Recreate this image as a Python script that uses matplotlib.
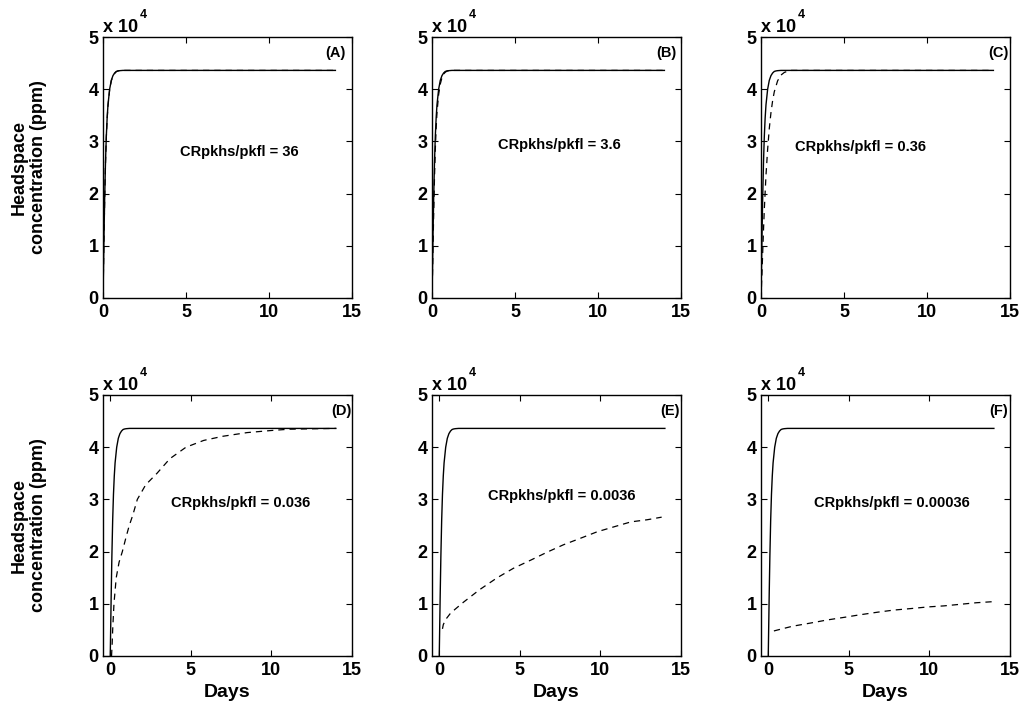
import numpy as np
import matplotlib
matplotlib.use("Agg")
import matplotlib.pyplot as plt
from matplotlib.ticker import FuncFormatter

plt.rcParams['font.family'] = ['Liberation Sans', 'DejaVu Sans']
plt.rcParams['font.weight'] = 'bold'

# ==================================================
# Data (time in days, concentration in ppm)
# ==================================================
panel_tags = ["(A)", "(B)", "(C)", "(D)", "(E)", "(F)"]
ratio_labels = ["36", "3.6", "0.36", "0.036", "0.0036", "0.00036"]

# solid curve, same in every panel
t_solid = [0.0, 0.03, 0.06, 0.1, 0.15, 0.2, 0.25, 0.3, 0.4, 0.5, 0.6, 0.7, 0.8, 0.9, 1.0, 1.2, 14.0]
c_solid = [0, 6000, 12000, 19000, 26000, 31000, 34500, 37000, 40000, 41700, 42600, 43100, 43400, 43500, 43550, 43600, 43600]

# dashed curves, one per panel
t_dash_a = [0.0, 0.03, 0.06, 0.1, 0.15, 0.2, 0.25, 0.3, 0.4, 0.5, 0.6, 0.7, 0.8, 0.9, 1.0, 1.2, 14.0]
c_dash_a = [0, 5800, 11700, 18700, 25700, 30800, 34300, 36800, 39900, 41600, 42500, 43000, 43350, 43500, 43550, 43600, 43600]

t_dash_b = [0.0, 0.03, 0.06, 0.1, 0.15, 0.2, 0.25, 0.3, 0.4, 0.5, 0.6, 0.7, 0.8, 0.9, 1.0, 1.2, 14.0]
c_dash_b = [0, 4500, 9500, 16000, 23000, 28500, 32500, 35500, 39000, 41000, 42200, 42900, 43250, 43450, 43550, 43600, 43600]

t_dash_c = [0.0, 0.05, 0.1, 0.15, 0.2, 0.3, 0.4, 0.5, 0.6, 0.7, 0.8, 1.0, 1.2, 1.4, 1.6, 1.8, 14.0]
c_dash_c = [0, 4000, 8500, 13000, 17000, 23500, 28500, 32500, 35500, 37800, 39500, 41600, 42700, 43200, 43450, 43600, 43600]

t_dash_d = [0.08, 0.12, 0.15, 0.23, 0.37, 0.55, 0.75, 1.0, 1.18, 1.4, 1.68, 2.2, 2.9, 3.7, 4.7, 5.8, 7.0, 8.5, 10.0, 11.1, 14.0]
c_dash_d = [0, 2500, 5000, 10000, 15000, 18000, 20000, 23000, 25000, 27000, 30000, 32800, 35000, 37800, 40000, 41300, 42100, 42800, 43200, 43450, 43600]

t_dash_e = [0.2, 0.25, 0.4, 0.7, 1.0, 1.5, 2.5, 3.6, 4.6, 5.7, 6.7, 7.7, 8.8, 9.8, 10.9, 11.9, 12.9, 13.8]
c_dash_e = [5200, 6000, 7000, 8200, 9000, 10300, 12700, 15000, 16800, 18400, 19900, 21300, 22600, 23800, 24800, 25700, 26100, 26600]

t_dash_f = [0.35, 0.6, 1.5, 2.6, 3.65, 4.7, 5.7, 6.8, 7.8, 8.9, 9.9, 10.9, 11.9, 12.9, 13.9]
c_dash_f = [4800, 5000, 5700, 6300, 6900, 7400, 7900, 8400, 8800, 9100, 9400, 9600, 9900, 10200, 10400]

dash_t = [t_dash_a, t_dash_b, t_dash_c, t_dash_d, t_dash_e, t_dash_f]
dash_c = [c_dash_a, c_dash_b, c_dash_c, c_dash_d, c_dash_e, c_dash_f]

# annotation anchor (data coords) per panel
ann_x = [8.2, 7.7, 6.0, 8.1, 7.6, 7.7]
ann_y = [28000, 29300, 29000, 29300, 30700, 29300]
tag_x = [14.6, 14.7, 14.9, 15.0, 14.9, 14.85]

# ==================================================
# Layout
# ==================================================
fig = plt.figure(figsize=(10.22, 7.09), dpi=100)
lefts = [103 / 1022, 432 / 1022, 761 / 1022]
bottoms = [1 - 298 / 709, 1 - 656 / 709]
w, h = 249 / 1022, 261 / 709

for i in range(6):
    row, col = divmod(i, 3)
    ax = fig.add_axes([lefts[col], bottoms[row], w, h])

    ax.plot(t_solid, c_solid, color="black", lw=1.0)
    ax.plot(dash_t[i], dash_c[i], color="black", lw=0.9, linestyle=(0, (5, 4)))

    ax.set_xlim(0 if row == 0 else -0.45, 15)
    ax.set_ylim(0, 50000)
    ax.set_xticks([0, 5, 10, 15])
    ax.set_yticks([0, 10000, 20000, 30000, 40000, 50000])
    ax.yaxis.set_major_formatter(FuncFormatter(lambda v, p: f"{v / 1e4:g}"))
    ax.tick_params(direction="in", top=True, right=True, length=4, width=0.8,
                   labelsize=13)
    ax.tick_params(axis="x", pad=4)
    ax.tick_params(axis="y", pad=3)
    for lab in ax.get_xticklabels() + ax.get_yticklabels():
        lab.set_fontweight("bold")
    for sp in ax.spines.values():
        sp.set_linewidth(1.0)

    # MATLAB-style exponent label above the axes
    ax.text(0.0, 1.02, "x 10", transform=ax.transAxes,
            fontsize=13, fontweight="bold", ha="left", va="baseline")
    ax.text(0.148, 1.073, "4", transform=ax.transAxes,
            fontsize=9, fontweight="bold", ha="left", va="baseline")

    ax.text(ann_x[i], ann_y[i], "CRpkhs/pkfl = " + ratio_labels[i],
            fontsize=10.5, fontweight="bold", ha="center", va="center")
    ax.text(tag_x[i], 46900, panel_tags[i], fontsize=10.5, fontweight="bold",
            ha="right", va="center")

    if col == 0:
        ax.set_ylabel("Headspace\nconcentration (ppm)", fontsize=13,
                      fontweight="bold", labelpad=30, linespacing=1.2)
    if row == 1:
        ax.set_xlabel("Days", fontsize=14, fontweight="bold", labelpad=4)

fig.savefig("out.png", dpi=100)
